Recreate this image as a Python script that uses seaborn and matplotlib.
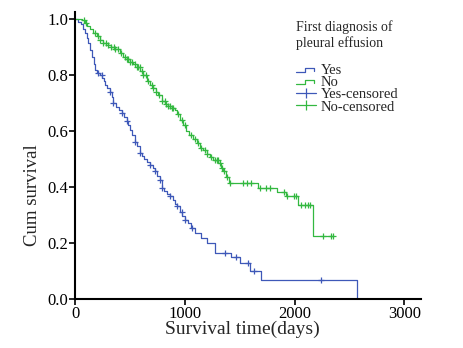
import numpy as np
import pandas as pd
import matplotlib
matplotlib.use("Agg")
import matplotlib.pyplot as plt
from matplotlib.lines import Line2D
from matplotlib.legend_handler import HandlerBase
import seaborn as sns

# Kaplan-Meier step knots: time (days) and cumulative survival after the step
yes_time = [0, 30, 50, 70, 91, 105, 118, 135, 155, 170, 182, 200, 225, 245, 260, 275,
            290, 318, 335, 348, 370, 395, 424, 445, 470, 485, 500, 520, 545, 565, 591,
            606, 630, 655, 682, 705, 727, 750, 773, 788, 810, 840, 864, 890, 910, 924,
            955, 975, 1000, 1030, 1060, 1090, 1150, 1197, 1273, 1424, 1506, 1591, 1697,
            2566]
yes_surv = [1.0, 0.99, 0.98, 0.965, 0.95, 0.93, 0.912, 0.89, 0.865, 0.84, 0.818, 0.805,
            0.80, 0.79, 0.778, 0.765, 0.752, 0.74, 0.72, 0.70, 0.685, 0.675, 0.663, 0.65,
            0.637, 0.62, 0.604, 0.585, 0.562, 0.545, 0.522, 0.512, 0.50, 0.49, 0.478,
            0.468, 0.458, 0.44, 0.425, 0.395, 0.385, 0.375, 0.368, 0.352, 0.34, 0.33,
            0.312, 0.295, 0.282, 0.27, 0.254, 0.235, 0.217, 0.199, 0.165, 0.149, 0.127,
            0.101, 0.068, 0.0]
yes_censored = [212, 242, 318, 348, 424, 470, 545, 591, 682, 727, 773, 788, 864, 924,
                970, 1000, 1061, 1364, 1470, 1576, 1627, 2242]

no_time = [0, 60, 90, 110, 136, 166, 197, 227, 250, 300, 330, 364, 409, 440, 470, 500,
           530, 560, 591, 620, 652, 680, 712, 735, 758, 788, 820, 848, 880, 909, 930,
           955, 980, 1009, 1040, 1070, 1106, 1140, 1167, 1197, 1230, 1258, 1303, 1330,
           1348, 1379, 1403, 1667, 1839, 1918, 2030, 2167, 2348]
no_surv = [1.0, 0.995, 0.985, 0.975, 0.965, 0.95, 0.94, 0.925, 0.915, 0.907, 0.90,
           0.892, 0.878, 0.865, 0.855, 0.845, 0.838, 0.828, 0.812, 0.798, 0.778, 0.765,
           0.752, 0.74, 0.728, 0.706, 0.695, 0.688, 0.682, 0.675, 0.66, 0.64, 0.622,
           0.60, 0.585, 0.57, 0.556, 0.54, 0.53, 0.518, 0.505, 0.496, 0.485, 0.468,
           0.455, 0.437, 0.413, 0.395, 0.381, 0.369, 0.336, 0.223, 0.223]
no_censored = [80, 100, 185, 212, 228, 255, 280, 300, 330, 350, 364, 390, 420, 455, 470,
               485, 500, 515, 545, 560, 575, 590, 606, 620, 650, 665, 700, 712, 740, 760,
               790, 815, 830, 850, 865, 880, 895, 940, 970, 1000, 1060, 1090, 1120, 1150,
               1180, 1200, 1240, 1270, 1290, 1300, 1320, 1340, 1360, 1385, 1410, 1530,
               1566, 1606, 1688, 1742, 1773, 1900, 1933, 1994, 2009, 2061, 2091, 2121,
               2136, 2258, 2333, 2348]

x_ticks = [0, 1000, 2000, 3000]
y_ticks = [0.0, 0.2, 0.4, 0.6, 0.8, 1.0]

BLUE = "#3E58B8"
GREEN = "#33B840"

sns.set_theme(style="white")
plt.rcParams["font.family"] = ["Liberation Serif", "DejaVu Serif"]


def surv_at(times, survs, t):
    idx = np.searchsorted(times, t, side="right") - 1
    return np.asarray(survs)[idx]


curves = pd.concat([
    pd.DataFrame({"time": yes_time, "surv": yes_surv, "group": "Yes"}),
    pd.DataFrame({"time": no_time, "surv": no_surv, "group": "No"}),
])
cens = pd.concat([
    pd.DataFrame({"time": yes_censored,
                  "surv": surv_at(yes_time, yes_surv, yes_censored), "group": "Yes"}),
    pd.DataFrame({"time": no_censored,
                  "surv": surv_at(no_time, no_surv, no_censored), "group": "No"}),
])
palette = {"Yes": BLUE, "No": GREEN}

fig = plt.figure(figsize=(4.64, 3.48), dpi=100)
ax = fig.add_axes([0.162, 0.141, 0.745, 0.825])

for g in ["Yes", "No"]:
    sub = curves[curves.group == g]
    sns.lineplot(data=sub, x="time", y="surv", ax=ax, color=palette[g],
                 drawstyle="steps-post", linewidth=0.9, estimator=None, sort=False,
                 legend=False)
    csub = cens[cens.group == g]
    sns.scatterplot(data=csub, x="time", y="surv", ax=ax, marker="+",
                    color=palette[g], s=18, linewidth=0.9, legend=False, zorder=3)

ax.set_xlim(0, 3150)
ax.set_ylim(0, 1.025)
ax.set_xticks(x_ticks)
ax.set_yticks(y_ticks)
ax.set_yticklabels([f"{v:.1f}" for v in y_ticks])
ax.tick_params(axis="both", direction="out", length=4, width=1.2, colors="black",
               labelsize=12, pad=1)
ax.tick_params(axis="both", which="both", left=True, bottom=True)
for side in ["top", "right"]:
    ax.spines[side].set_visible(False)
for side in ["left", "bottom"]:
    ax.spines[side].set_color("black")
    ax.spines[side].set_linewidth(1.5)
ax.set_xlabel("Survival time(days)", fontsize=14)
ax.xaxis.set_label_coords(0.483, -0.075)
ax.set_ylabel("Cum survival", fontsize=13.5)
ax.yaxis.set_label_coords(-0.10, 0.36)


class StepHandler(HandlerBase):
    def __init__(self, color):
        super().__init__()
        self.color = color

    def create_artists(self, legend, orig_handle, xdescent, ydescent, width, height,
                       fontsize, trans):
        x0, w, h = -xdescent, width, height
        xs = [x0, x0 + 0.45 * w, x0 + 0.45 * w, x0 + 0.9 * w, x0 + 0.9 * w]
        ys = [0.2 * h, 0.2 * h, 0.6 * h, 0.6 * h, 0.3 * h]
        ln = Line2D(xs, ys, color=self.color, linewidth=0.9)
        ln.set_transform(trans)
        return [ln]


h_yes = Line2D([], [], color=BLUE)
h_no = Line2D([], [], color=GREEN)
h_yc = Line2D([0], [0], color=BLUE, marker="|", markersize=7, linewidth=0.9,
              markeredgewidth=0.9)
h_nc = Line2D([0], [0], color=GREEN, marker="|", markersize=7, linewidth=0.9,
              markeredgewidth=0.9)
leg = fig.legend([h_yes, h_no, h_yc, h_nc],
                 ["Yes", "No", "Yes-censored", "No-censored"],
                 title="First diagnosis of\npleural effusion\n",
                 loc="upper left", bbox_to_anchor=(0.615, 0.97), frameon=False,
                 fontsize=10.5, title_fontsize=10, alignment="left",
                 handlelength=1.4, handletextpad=0.3, labelspacing=-0.08,
                 borderpad=0.2, numpoints=1,
                 handler_map={h_yes: StepHandler(BLUE), h_no: StepHandler(GREEN)})

fig.savefig("out.png", dpi=100, facecolor="white")
